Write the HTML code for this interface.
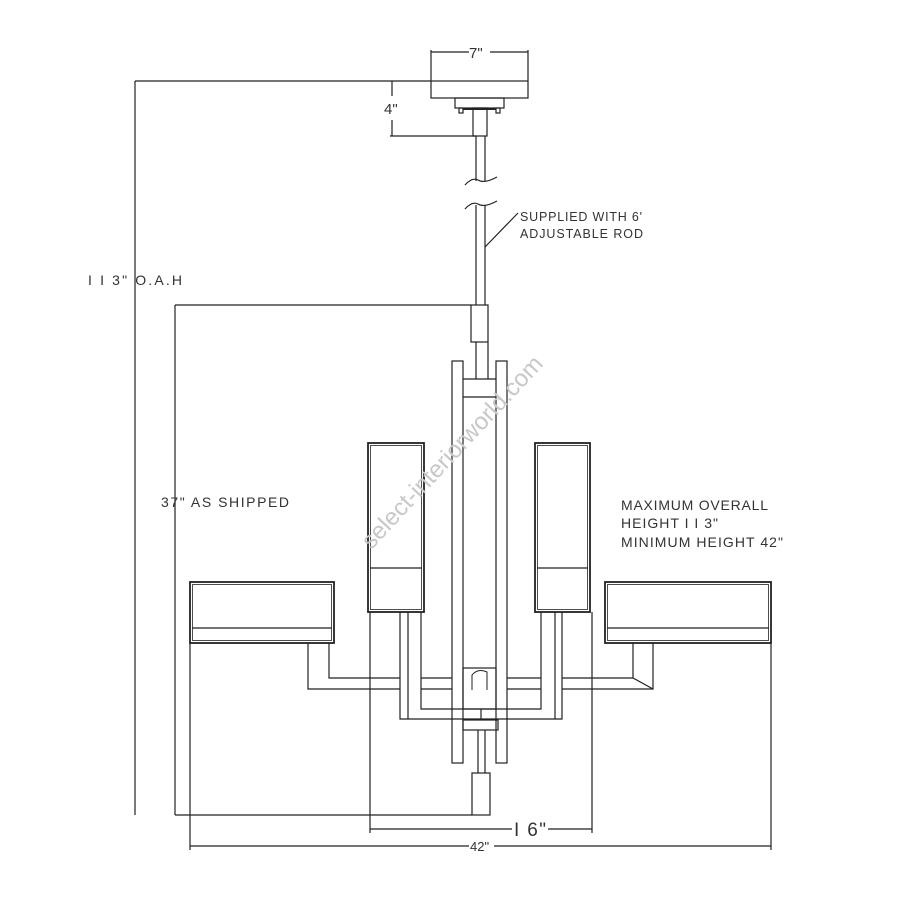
<!DOCTYPE html>
<html><head><meta charset="utf-8"><style>
html,body{margin:0;padding:0;background:#fff;}
svg{display:block;}
text{font-family:"Liberation Sans",sans-serif;fill:#333;}
</style></head><body>
<svg width="900" height="900" viewBox="0 0 900 900" xmlns="http://www.w3.org/2000/svg">
<g fill="none" stroke="#222" stroke-width="1.2">
<rect x="431" y="81" width="97" height="17"/>
<line x1="431" y1="50" x2="431" y2="81"/><line x1="528" y1="50" x2="528" y2="81"/>
<line x1="431" y1="52" x2="469" y2="52"/><line x1="490" y1="52" x2="528" y2="52"/>
<rect x="455" y="98" width="49" height="10"/>
<rect x="459" y="108" width="4" height="5"/><rect x="496" y="108" width="4" height="5"/>
<line x1="463" y1="109" x2="496" y2="109" stroke-width="2"/>
<rect x="473" y="108" width="14" height="28"/>
<line x1="135" y1="81" x2="431" y2="81"/>
<line x1="392" y1="81" x2="392" y2="96"/><line x1="392" y1="120" x2="392" y2="136"/>
<line x1="390" y1="136" x2="476" y2="136"/>
<line x1="476" y1="136" x2="476" y2="181"/><line x1="485" y1="136" x2="485" y2="181"/>
<path d="M465 185 Q472 177 478 180 Q484 184 497 177"/>
<path d="M465 209 Q472 201 478 204 Q484 208 497 201"/>
<line x1="476" y1="205" x2="476" y2="305"/><line x1="485" y1="205" x2="485" y2="305"/>
<path d="M485 247 L518 213"/>
<rect x="471" y="305" width="17" height="37"/>
<line x1="476" y1="342" x2="476" y2="379"/><line x1="488" y1="342" x2="488" y2="379"/>
<line x1="135" y1="81" x2="135" y2="815"/>
<line x1="175" y1="305" x2="175" y2="815"/>
<line x1="175" y1="305" x2="471" y2="305"/>
<line x1="175" y1="815" x2="472" y2="815"/>
<rect x="452" y="361" width="11" height="402"/>
<rect x="496" y="361" width="11" height="402"/>
<line x1="463" y1="379" x2="496" y2="379"/><line x1="463" y1="397" x2="496" y2="397"/>
<rect x="463" y="668" width="33" height="41"/>
<path d="M472 690 L472 675 Q478 668 487 672 L487 690" stroke-width="1"/>
<rect x="463" y="720" width="35" height="10"/>
<line x1="478" y1="730" x2="478" y2="773"/><line x1="485" y1="730" x2="485" y2="773"/>
<rect x="472" y="773" width="18" height="42"/>
<rect x="368" y="443" width="56" height="169" stroke-width="1.8"/>
<rect x="370.5" y="445.5" width="51" height="164" stroke-width="0.8"/>
<line x1="370" y1="568" x2="422" y2="568"/>
<rect x="535" y="443" width="55" height="169" stroke-width="1.8"/>
<rect x="537.5" y="445.5" width="50" height="164" stroke-width="0.8"/>
<line x1="537" y1="568" x2="588" y2="568"/>
<rect x="190" y="582" width="144" height="61" stroke-width="1.8"/>
<rect x="192.5" y="584.5" width="139" height="56" stroke-width="0.8"/>
<line x1="192" y1="628" x2="332" y2="628"/>
<rect x="605" y="582" width="166" height="61" stroke-width="1.8"/>
<rect x="607.5" y="584.5" width="161" height="56" stroke-width="0.8"/>
<line x1="607" y1="628" x2="769" y2="628"/>
<polyline points="308,643 308,689 400,689"/>
<polyline points="329,643 329,678 400,678"/>
<line x1="421" y1="678" x2="452" y2="678"/><line x1="421" y1="689" x2="452" y2="689"/>
<line x1="507" y1="678" x2="541" y2="678"/><line x1="507" y1="689" x2="541" y2="689"/>
<polyline points="562,678 633,678 633,643"/>
<polyline points="562,689 653,689 653,643"/>
<line x1="633" y1="678" x2="653" y2="689"/>
<polyline points="400,612 400,719 562,719 562,612"/>
<line x1="408" y1="612" x2="408" y2="719"/>
<line x1="555" y1="612" x2="555" y2="719"/>
<polyline points="421,612 421,709 541,709 541,612"/>
<line x1="481" y1="709" x2="481" y2="719"/>
<line x1="370" y1="612" x2="370" y2="833"/><line x1="592" y1="612" x2="592" y2="833"/>
<line x1="370" y1="829" x2="512" y2="829"/><line x1="548" y1="829" x2="592" y2="829"/>
<line x1="190" y1="643" x2="190" y2="850"/><line x1="771" y1="643" x2="771" y2="850"/>
<line x1="190" y1="846" x2="469" y2="846"/><line x1="494" y1="846" x2="771" y2="846"/>
</g>
<g font-size="14">
<text x="469" y="58" font-size="15">7"</text>
<text x="384" y="114" font-size="15">4"</text>
<text x="88" y="285" textLength="94">I I 3" O.A.H</text>
<text x="161" y="507" textLength="128">37" AS SHIPPED</text>
<text x="520" y="221" font-size="12.5" textLength="122">SUPPLIED WITH 6'</text>
<text x="520" y="238" font-size="12.5" textLength="123">ADJUSTABLE ROD</text>
<text x="621" y="510" textLength="147">MAXIMUM OVERALL</text>
<text x="621" y="528" textLength="97">HEIGHT I I 3"</text>
<text x="621" y="547" textLength="162">MINIMUM HEIGHT 42"</text>
<text x="514" y="836" font-size="19" textLength="32">I 6"</text>
<text x="470" y="851" font-size="13">42"</text>
<text x="452" y="460" font-size="24" fill="#c8c8c8" style="fill:#c8c8c8" text-anchor="middle" transform="rotate(-47 452 452)">select-interiorworld.com</text>
</g>
</svg>
</body></html>
